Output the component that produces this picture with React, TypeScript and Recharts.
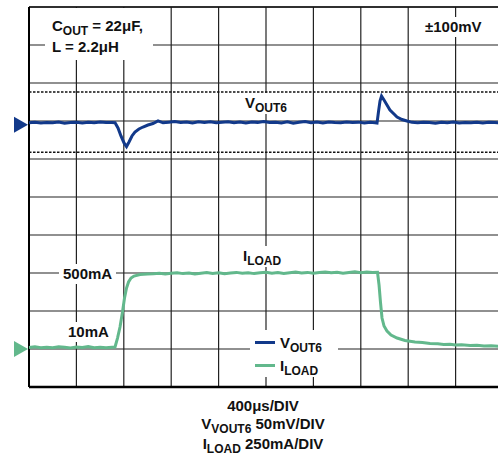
/* Load-step transient: VOUT6 ripple and ILOAD scope traces */
import React from 'react';
import {
  LineChart, Line, XAxis, YAxis, CartesianGrid,
  ReferenceLine, ReferenceDot, Legend,
} from 'recharts';

// 400us/div, 10 divisions
const xTicks = [0, 400, 800, 1200, 1600, 2000, 2400, 2800, 3200, 3600, 4000];
// VOUT6 50mV/div, 0mV sits on the 7th division
const vTicks = [-350, -300, -250, -200, -150, -100, -50, 0, 50, 100, 150];
// ILOAD 250mA/div, 0mA on the 1st division
const iDomain = [-250, 2250];

const vTimeUs = [
  0, 50, 100, 150, 200, 250, 300, 350, 400, 450, 500, 550, 600, 650, 700,
  726, 751, 776, 802, 823, 844, 869, 894, 928, 962, 1004, 1046, 1089, 1131,
  1180, 1230, 1280, 1330, 1380, 1430, 1480, 1530, 1580, 1630, 1680, 1730, 1780, 1830, 1880,
  1930, 1980, 2030, 2080, 2130, 2180, 2230, 2280, 2330, 2380, 2430, 2480, 2530, 2580, 2630,
  2680, 2730, 2780, 2830, 2880,
  2920, 2937, 2949, 2962, 2975, 2996, 3021, 3046, 3080, 3106, 3148, 3190, 3232,
  3280, 3330, 3380, 3430, 3480, 3530, 3580, 3630, 3680, 3730, 3780, 3830, 3880, 3930, 3980, 4000,
];
const vOutMv = [
  -2.2, -1.5, -2.6, -1.9, -2.4, -1.4, -2.8, -2.0, -1.6, -2.5, -1.8, -2.3, -1.2, -2.1, -1.9,
  -2.3, -9.2, -19.7, -28.9, -33.6, -27.6, -19.7, -14.5, -10.5, -7.9, -5.3, -3.3, 0.2, -2.4,
  -1.6, -0.8, -2.1, -1.3, -2.6, -1.1, -1.9, -0.9, -2.4, -1.5, -1.0, -2.2, -1.4, -2.7, -1.2,
  -1.8, -0.7, -2.0, -1.6, -2.5, -1.1, -3.0, -1.7, -0.6, -2.3, -1.4, -2.6, -1.2, -1.9, -2.4,
  -1.3, -2.1, -1.5, -2.7, -1.8,
  -2.2, -2.6, 11.8, 26.3, 32.9, 27.6, 21.0, 14.5, 9.2, 5.3, 2.0, 0.0, -1.8,
  -2.4, -1.5, -2.0, -2.8, -1.7, -2.2, -1.3, -2.6, -1.9, -2.3, -1.6, -2.5, -1.8, -2.1, -2.4, -2.0,
];

const iTimeUs = [
  0, 50, 100, 150, 200, 250, 300, 350, 400, 450, 500, 550, 600, 650, 700,
  726, 747, 768, 789, 806, 823, 840, 861, 886, 937, 1000,
  1050, 1100, 1150, 1200, 1250, 1300, 1350, 1400, 1450, 1500, 1550, 1600, 1650, 1700, 1750,
  1800, 1850, 1900, 1950, 2000, 2050, 2100, 2150, 2200, 2250, 2300, 2350, 2400, 2450, 2500,
  2550, 2600, 2650, 2700, 2750, 2800, 2850, 2900,
  2941, 2954, 2966, 2979, 2996, 3021, 3055, 3106, 3173, 3257, 3320, 3384, 3450, 3500,
  3553, 3600, 3650, 3722, 3780, 3840, 3900, 3958, 4000,
];
const iLoadMa = [
  10, 14, 8, 12, 9, 15, 11, 7, 13, 10, 16, 9, 12, 8, 11,
  13, 72, 145, 243, 336, 401, 441, 467, 480, 490, 494,
  495, 499, 493, 498, 502, 496, 500, 494, 499, 503, 497, 501, 495, 500, 504,
  498, 502, 496, 501, 505, 499, 503, 497, 502, 506, 500, 504, 498, 503, 507,
  501, 505, 499, 504, 508, 502, 506, 503,
  505, 421, 309, 204, 151, 118, 92, 72, 56, 46, 43, 36, 35, 30,
  31, 26, 28, 23, 25, 19, 22, 18, 20,
];

const vData = vTimeUs.map((t, k) => ({ t, v: vOutMv[k] }));
const iData = iTimeUs.map((t, k) => ({ t, i: iLoadMa[k] }));

const BLUE = '#12398a';
const GREEN = '#62b88c';
const FONT = "'Liberation Sans', Arial, sans-serif";

const Sub = ({ children }: { children: React.ReactNode }) => (
  <span style={{ fontSize: 12, position: 'relative', top: 4 }}>{children}</span>
);

const Note = ({ x, y, children }: { x: number; y: number; children: React.ReactNode }) => (
  <div style={{
    position: 'absolute', left: x, top: y, background: '#fff',
    padding: '0 4px', lineHeight: '20px', whiteSpace: 'nowrap',
  }}>
    {children}
  </div>
);

// channel ground marker, drawn just left of the plot edge
const marker = (color: string) => (props: any) => (
  <polygon
    points={`${props.cx - 15},${props.cy - 8} ${props.cx - 1},${props.cy} ${props.cx - 15},${props.cy + 8}`}
    fill={color}
  />
);

const legendOrder = ['v', 'i'];
const legendLabel: Record<string, React.ReactNode> = {
  v: <>V<Sub>OUT6</Sub></>,
  i: <>I<Sub>LOAD</Sub></>,
};

const ScopeLegend = ({ payload }: any) => {
  const items = [...(payload || [])].sort(
    (a: any, b: any) => legendOrder.indexOf(a.dataKey) - legendOrder.indexOf(b.dataKey),
  );
  return (
    <div style={{
      background: '#fff', width: 88, height: 47, boxSizing: 'border-box',
      padding: '2px 0 0 5px', fontFamily: FONT, fontWeight: 700, fontSize: 15,
      color: '#111', lineHeight: '22px',
    }}>
      {items.map((p: any) => (
        <div key={p.dataKey} style={{ whiteSpace: 'nowrap' }}>
          <span style={{
            display: 'inline-block', width: 20, height: 3, background: p.color,
            verticalAlign: 'middle', marginRight: 5, position: 'relative', top: -2,
          }} />
          {legendLabel[p.dataKey]}
        </div>
      ))}
    </div>
  );
};

export default function App() {
  return (
    <div style={{
      position: 'absolute', left: 0, top: 0, width: 498, height: 461,
      overflow: 'hidden', background: '#fff', fontFamily: FONT,
      fontWeight: 700, fontSize: 15, color: '#111',
    }}>
      <LineChart width={520} height={400} margin={{ top: 7, right: 17, bottom: 13, left: 29 }}>
        <XAxis type="number" dataKey="t" domain={[0, 4000]} ticks={xTicks} hide />
        <YAxis yAxisId="v" type="number" domain={[-350, 150]} ticks={vTicks} hide />
        <YAxis yAxisId="i" type="number" domain={iDomain} hide />
        <CartesianGrid yAxisId="v" stroke="#222" strokeWidth={1.2} />
        <ReferenceLine yAxisId="v" y={38} stroke="#111" strokeWidth={1.5} strokeDasharray="2.5 1.5" />
        <ReferenceLine yAxisId="v" y={-41} stroke="#111" strokeWidth={1.5} strokeDasharray="2.5 1.5" />
        <ReferenceLine yAxisId="v" y={150} stroke="#111" strokeWidth={1.5} />
        <ReferenceLine yAxisId="v" y={-350} stroke="#000" strokeWidth={2.5} />
        <ReferenceLine yAxisId="v" x={0} stroke="#000" strokeWidth={2} />
        <Line
          yAxisId="i" data={iData} dataKey="i" name="ILOAD" type="linear"
          stroke={GREEN} strokeWidth={3} dot={false} isAnimationActive={false}
        />
        <Line
          yAxisId="v" data={vData} dataKey="v" name="VOUT6" type="linear"
          stroke={BLUE} strokeWidth={3} dot={false} isAnimationActive={false}
        />
        <ReferenceDot yAxisId="v" x={0} y={-5} shape={marker(BLUE)} />
        <ReferenceDot yAxisId="i" x={0} y={0} shape={marker(GREEN)} />
        <Legend
          layout="vertical" align="center" verticalAlign="middle"
          content={<ScopeLegend />}
          wrapperStyle={{ left: 250, top: 330, width: 88, height: 47 }}
        />
      </LineChart>

      <div style={{
        position: 'absolute', left: 45, top: 8, width: 108, height: 52,
        background: '#fff', boxSizing: 'border-box', padding: '8px 0 0 7px',
        lineHeight: '20px', whiteSpace: 'nowrap',
      }}>
        <div>C<Sub>OUT</Sub> = 22μF,</div>
        <div>L = 2.2μH</div>
      </div>
      <Note x={421} y={17}>±100mV</Note>
      <Note x={241} y={93}>V<Sub>OUT6</Sub></Note>
      <Note x={239} y={246}>I<Sub>LOAD</Sub></Note>
      <Note x={59} y={264}>500mA</Note>
      <Note x={64} y={322}>10mA</Note>

      <div style={{
        position: 'absolute', left: 163, top: 397, width: 200,
        textAlign: 'center', lineHeight: '18.3px', whiteSpace: 'nowrap',
      }}>
        <div>400μs/DIV</div>
        <div>V<Sub>VOUT6</Sub> 50mV/DIV</div>
        <div>I<Sub>LOAD</Sub> 250mA/DIV</div>
      </div>
    </div>
  );
}
